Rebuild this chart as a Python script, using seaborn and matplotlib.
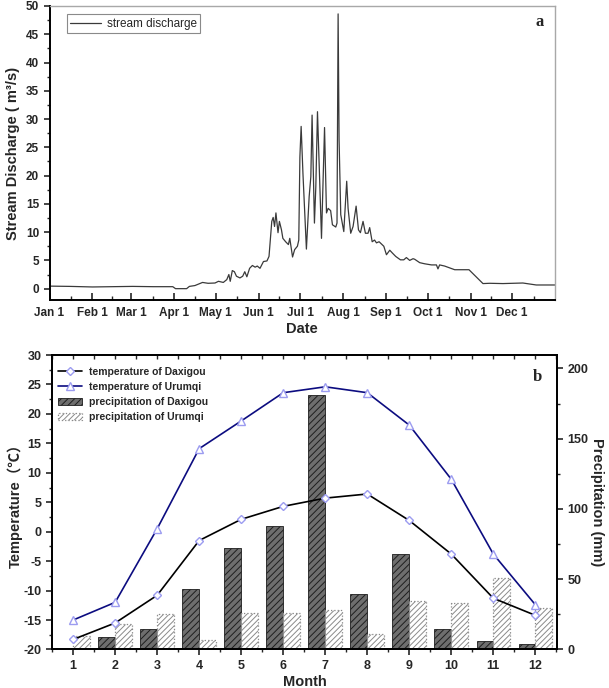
import numpy as np
import pandas as pd
import matplotlib
matplotlib.use("Agg")
import matplotlib.pyplot as plt
from matplotlib.ticker import MultipleLocator, FixedLocator
import seaborn as sns

# ========== Datos ==========

# ---------- (a) caudal diario: dia del año / m3/s ----------
q_day = [0, 15, 31, 45, 60, 75, 89, 91, 99, 101, 105, 110.5, 114.5, 119.5, 122,
         125.5, 128, 129.5, 130.5, 132, 133.5, 135, 137.5, 139.5, 141, 142.5,
         144.5, 146.5, 148.5, 150, 152, 154.5, 157, 158.5, 160.5, 161.5, 162.5,
         163.5, 165, 166, 167.5, 168.5, 170.5, 172.5, 173.5, 175.5, 177, 179,
         180, 180.8, 181.7, 183, 185.5, 187.5, 188.7, 189.6, 191.3, 192.3, 193.5,
         195, 196.4, 198.6, 200, 201.2, 203, 204.3, 206.7, 207.6, 208.4, 209.1,
         210.3, 212.5, 214.6, 215.6, 217.5, 219.2, 221.4, 223.1, 224.5, 226.4,
         228.1, 230, 231.2, 233, 234.7, 236.1, 238, 239.7, 241.4, 243.3, 245.7,
         247.6, 250, 253.4, 255.8, 257.7, 260.1, 262.5, 263.7, 267.3, 270.9,
         275.8, 279.4, 280.5, 281.7, 285.3, 292.6, 302.9, 313, 317.8, 327.4,
         341.8, 351.5, 365]
q_val = [0.45, 0.4, 0.3, 0.35, 0.4, 0.35, 0.35, 0.0, 0.0, 0.4, 0.55, 1.1, 0.95, 1.0, 1.3,
         1.1, 1.6, 2.5, 1.3, 3.2, 3.0, 2.2, 1.9, 2.2, 3.0, 2.1,
         3.6, 4.1, 3.8, 4.0, 3.6, 4.8, 4.9, 5.7, 11.9, 12.6, 11.0,
         13.4, 9.9, 11.9, 10.4, 8.9, 8.3, 7.8, 8.9, 5.6, 6.9, 7.5,
         8.6, 23.3, 28.7, 20.4, 7.0, 16.3, 19.8, 30.7, 11.6, 18.0, 31.3,
         19.8, 8.9, 28.5, 13.4, 14.2, 13.8, 11.3, 10.9, 11.6, 48.6, 26.3,
         13.1, 10.1, 19.0, 14.2, 9.8, 11.0, 14.6, 10.4, 9.9, 11.9,
         9.8, 9.8, 10.8, 8.3, 8.6, 8.1, 8.3, 7.9, 7.5, 6.0, 6.8,
         6.3, 5.7, 5.1, 5.1, 5.5, 5.0, 5.3, 5.2, 4.6, 4.4,
         4.2, 4.2, 3.5, 4.2, 4.0, 3.35, 3.35, 0.9, 0.95, 0.9,
         1.0, 0.65, 0.65]

month_start = [0, 31, 59, 90, 120, 151, 181, 212, 243, 273, 304, 334]
month_lbl = ["Jan 1", "Feb 1", "Mar 1", "Apr 1", "May 1", "Jun 1",
             "Jul 1", "Aug 1", "Sep 1", "Oct 1", "Nov 1", "Dec 1"]

# ---------- (b) clima mensual ----------
months = list(range(1, 13))
temp_daxigou = [-18.3, -15.5, -10.8, -1.5, 2.1, 4.3, 5.7, 6.4, 1.9, -3.8, -11.3, -14.2]
temp_urumqi = [-15.0, -12.0, 0.5, 14.1, 18.8, 23.6, 24.6, 23.6, 18.1, 8.9, -3.8, -12.4]
prec_daxigou = [1.4, 8.7, 14.9, 43.0, 72.4, 87.9, 181.0, 39.2, 67.7, 14.7, 5.7, 3.6]
prec_urumqi = [9.4, 18.4, 25.5, 6.4, 26.1, 25.7, 28.0, 10.7, 34.7, 32.8, 51.0, 29.5]

# ========== Estilo ==========
sns.set_style("ticks")
plt.rcParams["font.family"] = ["Liberation Sans", "Noto Sans CJK SC", "DejaVu Sans"]
plt.rcParams["font.weight"] = "bold"
plt.rcParams["axes.labelweight"] = "bold"
plt.rcParams["axes.unicode_minus"] = False
plt.rcParams["hatch.linewidth"] = 0.7

fig = plt.figure(figsize=(6.09, 6.88), dpi=100)

# ========== (a) Caudal ==========
ax1 = fig.add_axes([0.0813, 0.564, 0.830, 0.4273])
df_q = pd.DataFrame({"day": q_day, "q": q_val})
sns.lineplot(data=df_q, x="day", y="q", ax=ax1, color="#3a3a3a", lw=0.9,
             label="stream discharge")

ax1.set_xlim(0, 365)
ax1.set_ylim(-2, 50)
ax1.set_xticks(month_start, month_lbl)
mids = [(a + b) / 2 for a, b in zip(month_start, month_start[1:] + [365])]
ax1.xaxis.set_minor_locator(FixedLocator(mids))
ax1.yaxis.set_major_locator(MultipleLocator(5))
ax1.yaxis.set_minor_locator(MultipleLocator(2.5))
ax1.tick_params(axis="x", which="both", direction="in", labelsize=8.5, pad=5)
ax1.tick_params(axis="x", which="major", length=5, width=1.2)
ax1.tick_params(axis="x", which="minor", length=3, width=1)
ax1.tick_params(axis="y", which="both", direction="out", labelsize=8.5)
ax1.tick_params(axis="y", which="major", length=4, width=1.2)
ax1.tick_params(axis="y", which="minor", length=2.5, width=1)
for s in ["left", "bottom"]:
    ax1.spines[s].set_color("black")
    ax1.spines[s].set_linewidth(1.4)
for s in ["top", "right"]:
    ax1.spines[s].set_color("#a8a8a8")
    ax1.spines[s].set_linewidth(1.0)

ax1.set_xlabel("Date", fontsize=10.5, labelpad=2)
ax1.set_ylabel("Stream Discharge ( m³/s)", fontsize=10.5, labelpad=4)
leg1 = ax1.legend(loc="upper left", bbox_to_anchor=(0.034, 0.972), borderaxespad=0,
                  fancybox=False, edgecolor="#8a8a8a", framealpha=1,
                  prop={"family": "Liberation Sans", "size": 8.5, "weight": "normal"},
                  handlelength=2.6, borderpad=0.3, handletextpad=0.5)
leg1.get_frame().set_linewidth(0.8)
ax1.text(0.970, 0.946, "a", transform=ax1.transAxes, ha="center", va="center",
         fontsize=12, fontweight="bold", family="Liberation Serif")

# ========== (b) Temperatura y precipitacion ==========
ax = fig.add_axes([0.0849, 0.056, 0.830, 0.428])
ax2 = ax.twinx()
ax.set_zorder(ax2.get_zorder() + 1)
ax.patch.set_visible(False)

m = np.array(months)
ax2.bar(m - 0.4, prec_daxigou, width=0.4, align="edge", color="#6e6e6e",
        edgecolor="#1e1e1e", hatch="/////", lw=0.6, label="precipitation of Daxigou")
ax2.bar(m, prec_urumqi, width=0.4, align="edge", color="white",
        edgecolor="#8a8a8a", hatch="//////", lw=0.9, ls=":",
        label="precipitation of Urumqi")

df_t = pd.DataFrame({"month": months, "daxigou": temp_daxigou, "urumqi": temp_urumqi})
sns.lineplot(data=df_t, x="month", y="daxigou", ax=ax, color="black", lw=1.2,
             marker="D", markersize=4.5, markerfacecolor="white",
             markeredgecolor="#9c9cf0", markeredgewidth=1.0,
             label="temperature of Daxigou")
sns.lineplot(data=df_t, x="month", y="urumqi", ax=ax, color="#0c0c80", lw=1.2,
             marker="^", markersize=6, markerfacecolor="white",
             markeredgecolor="#9c9cf0", markeredgewidth=1.0,
             label="temperature of Urumqi")

ax.set_xlim(0.49, 12.52)
ax.set_ylim(-20, 30)
ax2.set_ylim(0, 209.6)
ax.set_xticks(months)
ax.xaxis.set_minor_locator(MultipleLocator(0.5))
ax.yaxis.set_major_locator(MultipleLocator(5))
ax.yaxis.set_minor_locator(MultipleLocator(2.5))
ax2.yaxis.set_major_locator(MultipleLocator(50))
ax2.yaxis.set_minor_locator(MultipleLocator(25))
ax.tick_params(axis="both", which="both", direction="out", labelsize=9)
ax.tick_params(which="major", length=4, width=1.2)
ax.tick_params(which="minor", length=2.5, width=1)
ax2.tick_params(axis="y", which="both", direction="out", labelsize=9)
ax2.tick_params(which="major", length=4, width=1.2)
ax2.tick_params(which="minor", length=2.5, width=1)

top = ax.secondary_xaxis("top")
top.set_xticks(months)
top.xaxis.set_minor_locator(MultipleLocator(0.5))
top.tick_params(which="both", direction="in", length=3, width=1, labeltop=False)
top.spines["top"].set_linewidth(1.2)
for a in [ax, ax2]:
    for s in a.spines.values():
        s.set_color("black")
        s.set_linewidth(1.3)

ax.set_xlabel("Month", fontsize=10.5, labelpad=2)
ax.set_ylabel("Temperature（℃）", fontsize=10.5, labelpad=0)
ax2.set_ylabel("Precipitation (mm)", fontsize=10.5, rotation=270, labelpad=11)

h1, l1 = ax.get_legend_handles_labels()
h2, l2 = ax2.get_legend_handles_labels()
ax.legend(h1 + h2, l1 + l2, loc="upper left", bbox_to_anchor=(0.005, 0.975),
          borderaxespad=0, frameon=False,
          prop={"family": "Liberation Sans", "size": 7.5, "weight": "bold"},
          handlelength=2.3, handletextpad=0.6, labelspacing=0.5)
ax.text(0.96, 0.925, "b", transform=ax.transAxes, ha="center", va="center",
        fontsize=12, fontweight="bold", family="Liberation Serif")

plt.savefig("out.png", dpi=100)
